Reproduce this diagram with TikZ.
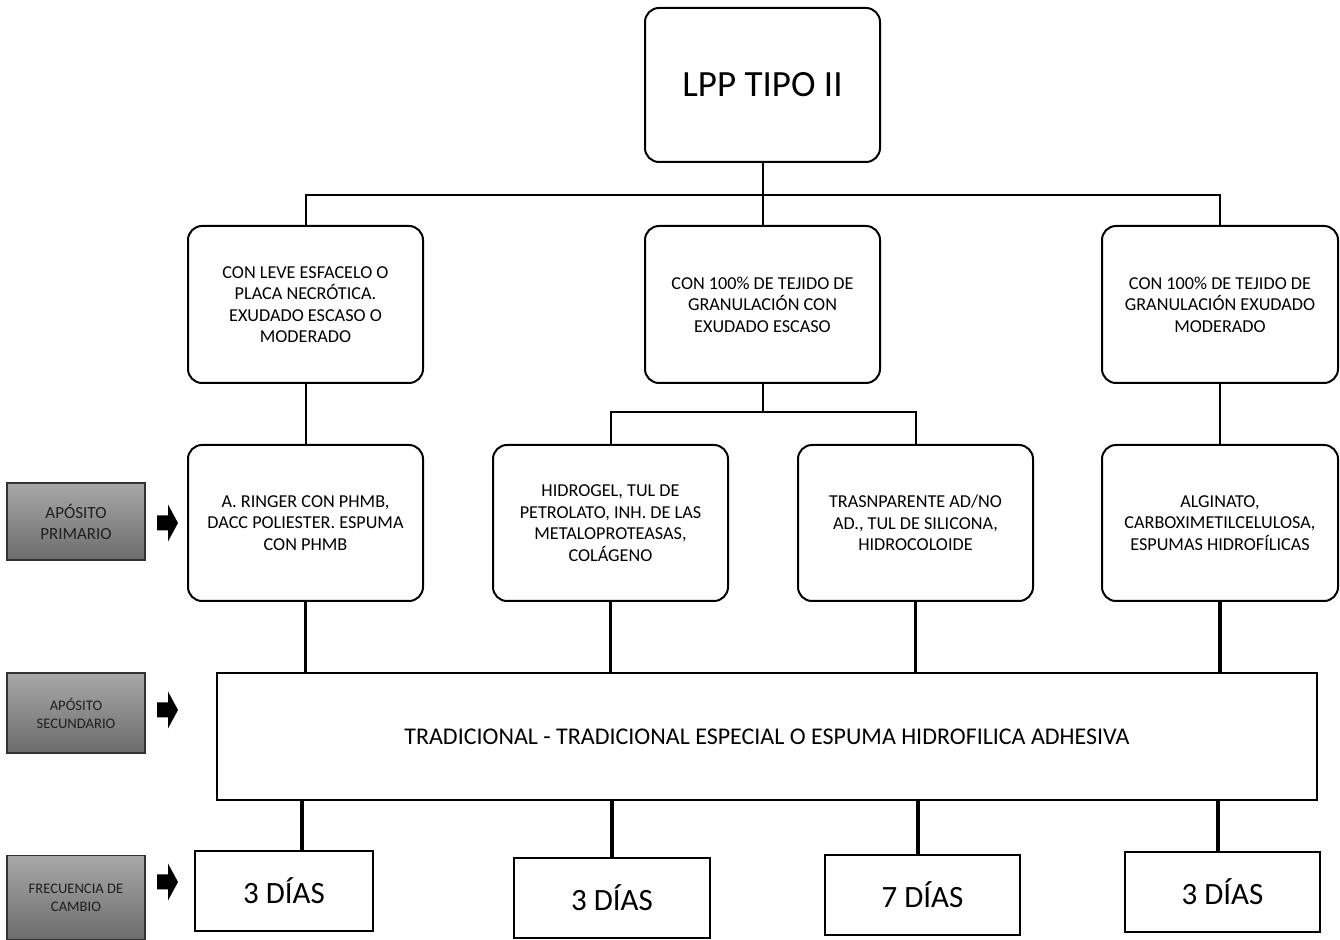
\documentclass[tikz,border=0pt]{standalone}
\usepackage{fontspec}
\setmainfont{Carlito}
\begin{document}
\begin{tikzpicture}[x=0.5pt,y=-0.5pt,
  rbox/.style={draw=black, line width=1pt, rounded corners=7pt, align=center, inner sep=2pt, fill=white},
  small/.style={font=\fontsize{9.1}{10.75}\selectfont},
  sbox/.style={draw=black, line width=1pt, align=center, fill=white},
  lbl/.style={draw=black!80, line width=0.6pt, top color=labtop, bottom color=labbot, align=center, text=black!88, minimum width=69pt},
  conn/.style={line width=1pt},
  thick conn/.style={line width=1.8pt},
  blockarrow/.pic={\fill[black] (-10.5,-7.5) -- (0.5,-7.5) -- (0.5,-18.5) -- (10.5,0) -- (0.5,18.5) -- (0.5,7.5) -- (-10.5,7.5) -- cycle;}
]
\definecolor{labtop}{HTML}{A8A8A8}
\definecolor{labbot}{HTML}{6C6C6C}
\useasboundingbox (0,0) rectangle (1340,940);

% top
\node[rbox, minimum width=117.5pt, minimum height=77pt, font=\fontsize{18.5}{22}\selectfont] (top) at (762.5,85) {LPP TIPO II};

% level 2
\node[rbox, small, minimum width=117.5pt, minimum height=78.5pt] (c1) at (305.5,304.5) {CON LEVE ESFACELO O\\PLACA NECRÓTICA.\\EXUDADO ESCASO O\\MODERADO};
\node[rbox, small, minimum width=117.5pt, minimum height=78.5pt] (c2) at (762.5,304.5) {CON 100\% DE TEJIDO DE\\GRANULACIÓN CON\\EXUDADO ESCASO};
\node[rbox, small, minimum width=118pt, minimum height=78.5pt] (c3) at (1220,304.5) {CON 100\% DE TEJIDO DE\\GRANULACIÓN EXUDADO\\MODERADO};

% level 3
\node[rbox, small, minimum width=117.5pt, minimum height=78pt] (p1) at (305.5,523) {A. RINGER CON PHMB,\\DACC POLIESTER. ESPUMA\\CON PHMB};
\node[rbox, small, minimum width=117.5pt, minimum height=78pt] (p2) at (610.5,523) {HIDROGEL, TUL DE\\PETROLATO, INH. DE LAS\\METALOPROTEASAS,\\COLÁGENO};
\node[rbox, small, minimum width=117.5pt, minimum height=78pt] (p3) at (915.5,523) {TRASNPARENTE AD/NO\\AD., TUL DE SILICONA,\\HIDROCOLOIDE};
\node[rbox, small, minimum width=118pt, minimum height=78pt] (p4) at (1220,523) {ALGINATO,\\CARBOXIMETILCELULOSA,\\ESPUMAS HIDROFÍLICAS};

% secondary
\node[sbox, minimum width=550pt, minimum height=63.5pt, font=\fontsize{12}{14}\selectfont] (sec) at (767,736.5) {TRADICIONAL - TRADICIONAL ESPECIAL O ESPUMA HIDROFILICA ADHESIVA};

% frequency boxes
\node[sbox, minimum width=89pt, minimum height=40pt, font=\fontsize{15.5}{18}\selectfont] (f1) at (284,891) {3 DÍAS};
\node[sbox, minimum width=98pt, minimum height=40pt, font=\fontsize{15.5}{18}\selectfont] (f2) at (612,898) {3 DÍAS};
\node[sbox, minimum width=97.5pt, minimum height=40pt, font=\fontsize{15.5}{18}\selectfont] (f3) at (922.5,895) {7 DÍAS};
\node[sbox, minimum width=97.5pt, minimum height=40pt, font=\fontsize{15.5}{18}\selectfont] (f4) at (1222.5,892) {3 DÍAS};

% left labels
\node[lbl, minimum height=38.5pt, font=\fontsize{8.5}{10.5}\selectfont] (l1) at (76,521.5) {APÓSITO\\PRIMARIO};
\node[lbl, minimum height=40pt, font=\fontsize{7.3}{9}\selectfont] (l2) at (76,713) {APÓSITO\\SECUNDARIO};
\node[lbl, minimum height=42pt, font=\fontsize{7.3}{9}\selectfont] (l3) at (76,897.5) {FRECUENCIA DE\\CAMBIO};

% arrows
\coordinate (a1) at (167.5,523);
\coordinate (a2) at (167.5,710);
\coordinate (a3) at (167.5,882);
\pic at (a1) {blockarrow};
\pic at (a2) {blockarrow};
\pic at (a3) {blockarrow};

% connectors top
\coordinate (bus1) at (762.5,195);
\draw[conn] (top.south) -- (bus1);
\draw[conn] (c1.north) |- (bus1) -| (c3.north);
\draw[conn] (c2.north) -- (bus1);

% connectors level 2 -> 3
\coordinate (bus2) at (762.5,412);
\draw[conn] (c1.south) -- (p1.north);
\draw[conn] (c3.south) -- (p4.north);
\draw[conn] (c2.south) -- (bus2);
\draw[conn] (p2.north) |- (bus2) -| (p3.north);

% thick connectors to secondary
\draw[thick conn] (p1.south) -- (p1.south |- sec.north);
\draw[thick conn] (p2.south) -- (p2.south |- sec.north);
\draw[thick conn] (p3.south) -- (p3.south |- sec.north);
\draw[thick conn] (p4.south) -- (p4.south |- sec.north);

% thick connectors to frequency
\draw[thick conn] (sec.south -| 302,0) -- (f1.north -| 302,0);
\draw[thick conn] (f2.north) -- (f2.north |- sec.south);
\draw[thick conn] (f3.north -| 918,0) -- (sec.south -| 918,0);
\draw[thick conn] (f4.north -| 1218,0) -- (sec.south -| 1218,0);
\end{tikzpicture}
\end{document}
